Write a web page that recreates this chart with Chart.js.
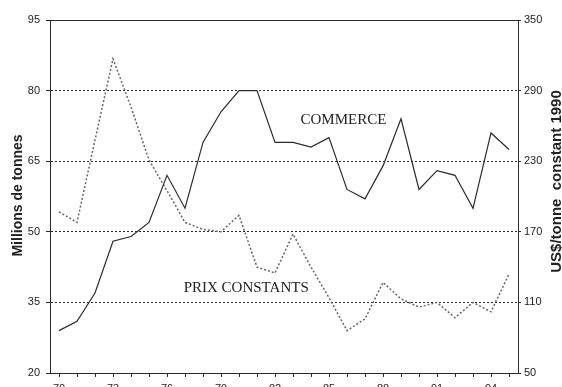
<!DOCTYPE html>
<html>
<head>
<meta charset="utf-8">
<script src="https://cdn.jsdelivr.net/npm/chart.js@4.4.1/dist/chart.umd.min.js"></script>
<style>
    html, body { margin: 0; padding: 0; background: #fff; }
    #wrap { width: 562px; height: 387px; }
</style>
</head>
<body>
<div id="wrap"><canvas id="tradeChart" width="562" height="387"></canvas></div>
<script>
// Data
const years = ['70','71','72','73','74','75','76','77','78','79','80','81','82',
               '83','84','85','86','87','88','89','90','91','92','93','94','95'];
const commerce = [29, 31, 37, 48, 49, 52, 62, 55, 69, 75.5, 80, 80, 69,
                  69, 68, 70, 59, 57, 64, 74, 59, 63, 62, 55, 71, 67.5];
const prixConstants = [187, 178, 248, 317, 276, 231, 205, 178, 172, 170, 184, 140, 135,
                       168, 140, 114, 86, 96, 127, 113, 106, 110, 97, 110, 102, 134];
const leftTicks = [20, 35, 50, 65, 80, 95];
const rightTicks = [50, 110, 170, 230, 290, 350];

const ink = '#2b2b2b';

// Frame top line, axis titles and series labels
const decorPlugin = {
    id: 'decor',
    afterDraw(chart) {
        const ctx = chart.ctx;
        const area = chart.chartArea;
        const x = chart.scales.x;
        const y = chart.scales.y;

        ctx.save();
        ctx.strokeStyle = ink;
        ctx.lineWidth = 1;
        ctx.beginPath();
        ctx.moveTo(area.left, area.top + 0.5);
        ctx.lineTo(area.right, area.top + 0.5);
        ctx.stroke();

        ctx.fillStyle = '#222';
        ctx.textAlign = 'center';
        ctx.textBaseline = 'middle';

        // axis titles, both read bottom to top
        ctx.font = 'bold 14px "Liberation Sans", Arial, sans-serif';
        ctx.save();
        ctx.translate(18, (area.top + area.bottom) / 2 - 1);
        ctx.rotate(-Math.PI / 2);
        ctx.fillText('Millions de tonnes', 0, 0);
        ctx.restore();

        ctx.font = 'bold 15px "Liberation Sans", Arial, sans-serif';
        ctx.save();
        ctx.translate(557, (area.top + area.bottom) / 2 - 15);
        ctx.rotate(-Math.PI / 2);
        ctx.fillText('US$/tonne  constant 1990', 0, 0);
        ctx.restore();

        // series labels
        ctx.font = '15px "Liberation Serif", "Times New Roman", serif';
        ctx.fillText('COMMERCE', x.getPixelForValue(15.8), y.getPixelForValue(73.7));
        ctx.fillText('PRIX CONSTANTS', x.getPixelForValue(10.4), y.getPixelForValue(38));
        ctx.restore();
    }
};

document.addEventListener('DOMContentLoaded', function() {
    const tradeCtx = document.getElementById('tradeChart').getContext('2d');
    const tradeChart = new Chart(tradeCtx, {
        type: 'line',
        data: {
            labels: years,
            datasets: [{
                label: 'COMMERCE',
                data: commerce,
                yAxisID: 'y',
                borderColor: ink,
                borderWidth: 1.2,
                pointRadius: 0,
                tension: 0,
                fill: false
            }, {
                label: 'PRIX CONSTANTS',
                data: prixConstants,
                yAxisID: 'y1',
                borderColor: '#666',
                borderWidth: 1.5,
                borderDash: [2, 2],
                pointRadius: 0,
                tension: 0,
                fill: false
            }]
        },
        options: {
            responsive: false,
            devicePixelRatio: 1,
            animation: false,
            layout: {
                padding: { top: 20, left: 0, right: 0, bottom: 0 }
            },
            plugins: {
                legend: { display: false },
                tooltip: { enabled: false }
            },
            scales: {
                x: {
                    type: 'category',
                    offset: true,
                    grid: {
                        drawOnChartArea: false,
                        drawTicks: true,
                        tickLength: 4,
                        color: ink
                    },
                    border: { color: ink, width: 1 },
                    ticks: {
                        autoSkip: false,
                        maxRotation: 0,
                        padding: 5,
                        color: '#222',
                        font: { family: '"Liberation Sans", Arial, sans-serif', size: 11 },
                        callback: function(value, index) {
                            return index % 3 === 0 ? years[index] : '';
                        }
                    },
                    afterFit: function(scale) {
                        scale.height = 14;
                    }
                },
                y: {
                    position: 'left',
                    min: leftTicks[0],
                    max: leftTicks[leftTicks.length - 1],
                    afterBuildTicks: function(scale) {
                        scale.ticks = leftTicks.map(v => ({ value: v }));
                    },
                    grid: {
                        drawOnChartArea: true,
                        tickLength: 4,
                        tickColor: ink,
                        color: function(context) {
                            const v = context.tick && context.tick.value;
                            return (v === leftTicks[0] || v === leftTicks[leftTicks.length - 1]) ? 'rgba(0,0,0,0)' : ink;
                        }
                    },
                    border: { color: ink, width: 1, dash: [2, 2] },
                    ticks: {
                        padding: 6,
                        color: '#222',
                        font: { family: '"Liberation Sans", Arial, sans-serif', size: 11 }
                    },
                    afterFit: function(scale) {
                        scale.width = 50;
                    }
                },
                y1: {
                    position: 'right',
                    min: rightTicks[0],
                    max: rightTicks[rightTicks.length - 1],
                    afterBuildTicks: function(scale) {
                        scale.ticks = rightTicks.map(v => ({ value: v }));
                    },
                    grid: {
                        drawOnChartArea: false,
                        tickLength: 3,
                        color: ink
                    },
                    border: { color: ink, width: 1 },
                    ticks: {
                        padding: 3,
                        color: '#222',
                        font: { family: '"Liberation Sans", Arial, sans-serif', size: 11 }
                    },
                    afterFit: function(scale) {
                        scale.width = 44;
                    }
                }
            }
        },
        plugins: [decorPlugin]
    });
});
</script>
</body>
</html>
